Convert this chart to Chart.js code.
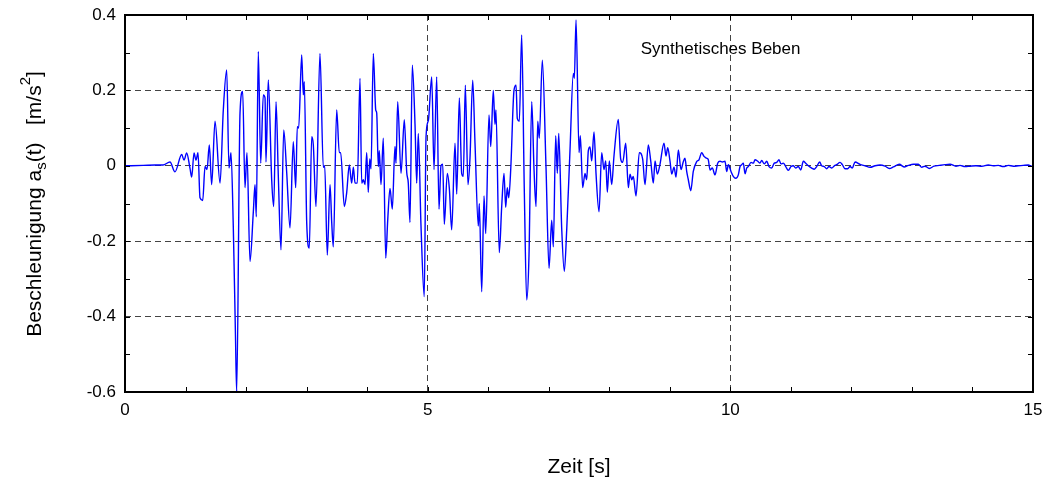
<!DOCTYPE html>
<html>
<head>
<meta charset="utf-8">
<script src="https://cdn.jsdelivr.net/npm/chart.js@4.4.1/dist/chart.umd.min.js"></script>
<style>
  html, body { margin: 0; padding: 0; background: #fff; }
  #wrap { width: 1049px; height: 482px; }
</style>
</head>
<body>
<div id="wrap"><canvas id="myChart"></canvas></div>
<script>
// time axis [s] and ground acceleration [m/s^2]
const time = [
  0, 0.30, 0.50, 0.628, 0.743, 0.826, 0.937, 0.975, 1.019, 1.074,
  1.102, 1.140, 1.173, 1.206, 1.239, 1.284, 1.322, 1.355, 1.393, 1.432,
  1.487, 1.570, 1.624, 1.680, 1.718, 1.751, 1.789, 1.825, 1.845, 1.900,
  1.944, 1.982, 2.015, 2.065, 2.120, 2.148, 2.169, 2.202, 2.242, 2.285,
  2.313, 2.329, 2.367, 2.424, 2.457, 2.495, 2.533, 2.577, 2.622, 2.671,
  2.726, 2.780, 2.820, 2.846, 2.869, 2.919, 2.946, 2.962, 3.002, 3.045,
  3.084, 3.111, 3.155, 3.221, 3.276, 3.299, 3.342, 3.387, 3.415, 3.441,
  3.497, 3.540, 3.563, 3.623, 3.663, 3.705, 3.745, 3.772, 3.800, 3.838,
  3.882, 3.910, 3.937, 3.965, 3.993, 4.019, 4.043, 4.064, 4.102, 4.142,
  4.158, 4.185, 4.201, 4.229, 4.267, 4.307, 4.340, 4.378, 4.416, 4.460,
  4.477, 4.505, 4.560, 4.614, 4.654, 4.680, 4.708, 4.746, 4.791, 4.819,
  4.845, 4.890, 4.944, 4.973, 5.011, 5.067, 5.105, 5.149, 5.187, 5.220,
  5.249, 5.275, 5.324, 5.358, 5.397, 5.452, 5.480, 5.523, 5.562, 5.589,
  5.622, 5.666, 5.699, 5.744, 5.782, 5.837, 5.853, 5.893, 5.931, 5.959,
  6.013, 6.042, 6.084, 6.112, 6.128, 6.183, 6.223, 6.261, 6.289, 6.315,
  6.339, 6.372, 6.426, 6.460, 6.481, 6.514, 6.553, 6.596, 6.636, 6.674,
  6.719, 6.757, 6.790, 6.818, 6.844, 6.894, 6.955, 7.005, 7.049, 7.076,
  7.115, 7.142, 7.165, 7.214, 7.257, 7.297, 7.351, 7.406, 7.423, 7.451,
  7.501, 7.522, 7.561, 7.599, 7.627, 7.654, 7.682, 7.710, 7.748, 7.781,
  7.831, 7.875, 7.913, 7.941, 7.968, 8.001, 8.040, 8.078, 8.149, 8.189,
  8.222, 8.272, 8.315, 8.343, 8.371, 8.397, 8.442, 8.496, 8.552, 8.590,
  8.645, 8.685, 8.728, 8.756, 8.794, 8.838, 8.904, 8.937, 8.965, 9.003,
  9.032, 9.070, 9.103, 9.141, 9.185, 9.223, 9.251, 9.279, 9.306, 9.346,
  9.388, 9.444, 9.482, 9.527, 9.565, 9.610, 9.636, 9.664, 9.702, 9.747,
  9.791, 9.830, 9.868, 9.912, 9.940, 9.967, 10.011, 10.049, 10.089, 10.132,
  10.160, 10.188, 10.215, 10.243, 10.271, 10.297, 10.342, 10.380, 10.408, 10.452,
  10.490, 10.518, 10.561, 10.601, 10.639, 10.683, 10.726, 10.766, 10.804, 10.837,
  10.875, 10.915, 10.958, 11.002, 11.040, 11.080, 11.123, 11.163, 11.206, 11.245,
  11.288, 11.344, 11.387, 11.427, 11.476, 11.509, 11.552, 11.592, 11.630, 11.675,
  11.718, 11.757, 11.812, 11.850, 11.895, 11.939, 11.977, 12.015, 12.060, 12.143,
  12.226, 12.308, 12.391, 12.473, 12.556, 12.627, 12.693, 12.792, 12.870, 12.941,
  13.024, 13.106, 13.162, 13.215, 13.287, 13.364, 13.452, 13.547, 13.629, 13.728,
  13.794, 13.877, 13.959, 14.058, 14.153, 14.262, 14.344, 14.427, 14.510, 14.592,
  14.675, 14.757, 14.840, 14.922, 14.984, 15
];
const accel = [
  0, 0.001, 0.002, 0.002, 0.010, -0.016, 0.030, 0.015, 0.034, -0.007,
  -0.030, 0.034, 0.015, 0.035, -0.085, -0.092, -0.002, -0.010, 0.055, -0.050,
  0.118, -0.046, 0.148, 0.254, -0.006, 0.035, -0.162, -0.450, -0.600, 0.140,
  0.197, -0.058, 0.035, -0.254, -0.122, -0.050, -0.135, 0.303, 0.007, 0.188,
  0.180, 0.010, 0.228, -0.040, -0.108, 0.170, -0.029, -0.223, 0.095, -0.017,
  -0.165, 0.064, -0.058, 0.104, 0.100, 0.294, 0.188, 0.223, -0.152, -0.218,
  0.077, 0.055, -0.108, 0.298, -0.004, 0.000, -0.237, -0.050, -0.150, -0.215,
  0.148, 0.035, 0.035, -0.108, -0.070, 0.002, -0.046, -0.004, -0.046, -0.046,
  0.232, -0.046, -0.037, -0.050, 0.035, -0.070, 0.018, -0.008, 0.298, 0.148,
  0.140, -0.002, 0.040, -0.050, 0.073, -0.245, -0.144, -0.060, -0.115, 0.051,
  0.007, 0.170, -0.020, 0.122, -0.017, -0.046, -0.150, 0.267, 0.110, -0.046,
  0.086, -0.160, -0.347, 0.077, 0.120, 0.236, -0.010, 0.236, -0.115, 0.000,
  0.004, -0.155, -0.020, -0.060, -0.170, 0.060, -0.075, 0.180, -0.020, -0.028,
  0.214, -0.050, 0.020, 0.227, 0.060, -0.160, -0.100, -0.334, -0.080, -0.180,
  0.135, 0.051, 0.200, 0.110, 0.148, -0.230, -0.108, -0.020, -0.110, -0.058,
  -0.085, -0.010, 0.200, 0.214, 0.125, 0.118, 0.347, -0.060, -0.356, -0.237,
  0.170, -0.010, -0.108, 0.118, 0.073, 0.280, -0.004, -0.272, -0.144, -0.215,
  0.080, -0.020, 0.086, -0.165, -0.280, -0.170, 0.040, 0.245, 0.232, 0.387,
  0.035, 0.080, -0.058, -0.020, -0.037, 0.040, 0.050, 0.013, 0.090, -0.020,
  -0.122, 0.035, -0.010, 0.013, -0.070, 0.013, -0.050, 0.026, 0.123, 0.018,
  0.009, 0.060, -0.058, -0.022, -0.037, -0.028, -0.080, 0.035, 0.018, -0.050,
  0.055, 0.013, -0.046, 0.013, -0.022, 0.004, 0.060, 0.026, 0.048, 0.013,
  -0.022, -0.004, -0.030, 0.042, -0.010, 0.011, 0.020, -0.015, -0.037, -0.066,
  -0.015, 0.011, 0.016, 0.035, 0.025, 0.020, 0.016, -0.011, -0.006, -0.024,
  0.007, 0.012, 0.010, 0.012, -0.015, 0.003, -0.015, -0.028, -0.033, -0.024,
  -0.002, 0.003, 0.007, -0.021, -0.006, -0.002, 0.009, 0.007, 0.016, 0.012,
  0.007, 0.014, 0.005, 0.012, -0.002, -0.006, 0.007, 0.009, 0.016, 0.005,
  0.007, -0.002, -0.012, -0.002, 0.000, -0.006, -0.002, -0.011, 0.012, 0.007,
  0.000, -0.006, -0.009, -0.002, 0.010, 0.000, -0.002, -0.008, -0.002, -0.006,
  0.000, 0.003, 0.009, 0.003, -0.008, -0.008, -0.002, -0.006, 0.010, 0.004,
  0.000, -0.004, 0.000, 0.002, -0.001, -0.007, -0.003, 0.004, -0.003, 0.001,
  0.004, 0.004, -0.004, -0.001, -0.007, -0.001, 0.001, 0.003, 0.004, -0.001,
  0.001, -0.002, -0.001, 0.000, -0.001, 0.002, 0.000, 0.001, -0.002, 0.001,
  -0.001, 0.000, 0.001, 0.002, -0.001, 0
];
const xTickLabels = ['0', '5', '10', '15'];
const yTickLabels = ['-0.6', '-0.4', '-0.2', '0', '0.2', '0.4'];

const FONT = "'Liberation Sans', Arial, sans-serif";
const points = time.map((t, i) => ({ x: t, y: accel[i] }));

// frame, inward minor ticks, axis title with sub/superscript, note text
const decor = {
  id: 'decor',
  afterDraw(chart) {
    const ctx = chart.ctx;
    const a = chart.chartArea;
    const xs = chart.scales.x, ys = chart.scales.y;
    ctx.save();
    ctx.strokeStyle = '#000';
    ctx.lineWidth = 1;
    ctx.beginPath();
    for (let v = 0; v <= 15; v++) {
      const px = Math.round(xs.getPixelForValue(v)) + 0.5;
      ctx.moveTo(px, a.bottom); ctx.lineTo(px, a.bottom - 5);
      ctx.moveTo(px, a.top); ctx.lineTo(px, a.top + 5);
    }
    for (let k = -6; k <= 4; k++) {
      const py = Math.round(ys.getPixelForValue(k / 10)) + 0.5;
      ctx.moveTo(a.left, py); ctx.lineTo(a.left + 5, py);
      ctx.moveTo(a.right, py); ctx.lineTo(a.right - 5, py);
    }
    ctx.stroke();
    ctx.lineWidth = 2;
    ctx.strokeRect(a.left, a.top, a.right - a.left, a.bottom - a.top);

    // note inside the plot
    ctx.fillStyle = '#000';
    ctx.font = '17px ' + FONT;
    ctx.textBaseline = 'middle';
    ctx.textAlign = 'left';
    ctx.fillText('Synthetisches Beben', xs.getPixelForValue(8.52), ys.getPixelForValue(0.31));

    // y axis title
    const big = '21px ' + FONT, small = '15px ' + FONT;
    const parts = [
      ['Beschleunigung a', big, 0],
      ['s', small, 7],
      ['(t)   [m/s', big, 0],
      ['2', small, -9],
      [']', big, 0]
    ];
    let total = 0;
    parts.forEach(p => { ctx.font = p[1]; total += ctx.measureText(p[0]).width; });
    ctx.translate(35, 204);
    ctx.rotate(-Math.PI / 2);
    let x = -total / 2;
    parts.forEach(p => {
      ctx.font = p[1];
      ctx.fillText(p[0], x, p[2]);
      x += ctx.measureText(p[0]).width;
    });
    ctx.restore();
  }
};

const ctx = document.getElementById('myChart').getContext('2d');
const myChart = new Chart(ctx, {
  type: 'line',
  data: {
    datasets: [{
      data: points,
      borderColor: '#0000ff',
      borderWidth: 1.4,
      pointRadius: 0,
      cubicInterpolationMode: 'monotone',
      fill: false
    }]
  },
  options: {
    responsive: true,
    maintainAspectRatio: false,
    animation: false,
    layout: { padding: { top: 15, right: 16, left: 0, bottom: 0 } },
    plugins: { legend: { display: false }, tooltip: { enabled: false } },
    scales: {
      x: {
        type: 'linear',
        min: 0, max: 15,
        afterFit: s => { s.height = 90; s.paddingLeft = 0; s.paddingRight = 0; },
        ticks: {
          stepSize: 5,
          padding: 8,
          color: '#000',
          font: { size: 17, family: FONT },
          callback: (v) => xTickLabels.includes(String(v)) ? String(v) : ''
        },
        grid: {
          drawTicks: false,
          lineWidth: 1,
          color: c => (c.tick && (c.tick.value === 5 || c.tick.value === 10)) ? '#444' : 'rgba(0,0,0,0)'
        },
        border: { display: false, dash: [6, 4] },
        title: {
          display: true,
          text: 'Zeit [s]',
          color: '#000',
          font: { size: 21, family: FONT },
          padding: { top: 0, bottom: 2 }
        }
      },
      y: {
        min: -0.6, max: 0.4,
        afterFit: s => { s.width = 125; s.paddingTop = 0; s.paddingBottom = 0; },
        ticks: {
          stepSize: 0.2,
          padding: 9,
          color: '#000',
          font: { size: 17, family: FONT },
          callback: (v) => {
            const s = Math.abs(v) < 1e-9 ? '0' : v.toFixed(1);
            return yTickLabels.includes(s) ? s : '';
          }
        },
        grid: {
          drawTicks: false,
          lineWidth: 1,
          color: c => {
            if (!c.tick) return 'rgba(0,0,0,0)';
            const v = c.tick.value;
            return (v > -0.55 && v < 0.35) ? '#444' : 'rgba(0,0,0,0)';
          }
        },
        border: { display: false, dash: [6, 4] }
      }
    }
  },
  plugins: [decor]
});
</script>
</body>
</html>
